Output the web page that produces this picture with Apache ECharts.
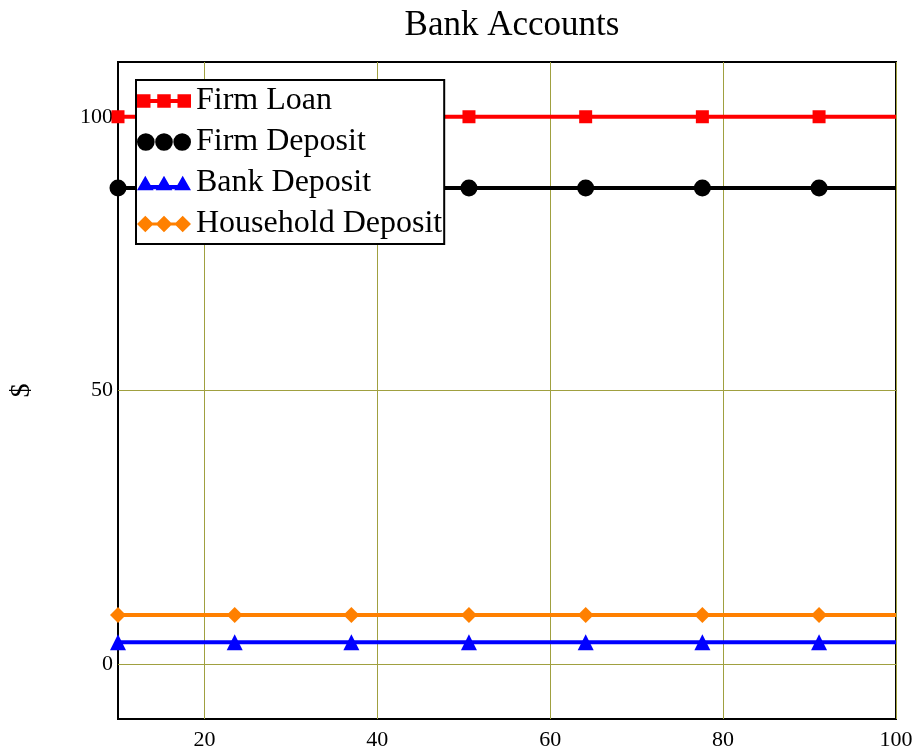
<!DOCTYPE html>
<html>
<head>
<meta charset="utf-8">
<title>Bank Accounts</title>
<script src="https://cdn.jsdelivr.net/npm/echarts@6/dist/echarts.min.js"></script>
<style>
html, body { margin: 0; padding: 0; background: #fff; }
#main { width: 923px; height: 756px; }
</style>
</head>
<body>
<div id="main"></div>
<script>
var myChart = echarts.init(document.getElementById('main'));

// time steps where the markers sit (last one is the line end)
var steps = [10, 23.5, 37, 50.6, 64.1, 77.6, 91.1, 100];
var firmLoan = [100, 100, 100, 100, 100, 100, 100, 100];
var firmDeposit = [87, 87, 87, 87, 87, 87, 87, 87];
var bankDeposit = [4, 4, 4, 4, 4, 4, 4, 4];
var householdDeposit = [9, 9, 9, 9, 9, 9, 9, 9];
var xTicks = [20, 40, 60, 80, 100];
var yTicks = [0, 50, 100];
var names = ['Firm Loan', 'Firm Deposit', 'Bank Deposit', 'Household Deposit'];

var serif = 'Liberation Serif, Times New Roman, serif';
var gridColor = '#a0a040';

// legend icons: three markers joined by a line
var icons = [
	'path://M0,0h13v4.5h6.5v-4.5h13v4.5h6.5v-4.5h13v13h-13v-4.5h-6.5v4.5h-13v-4.5h-6.5v4.5h-13z',
	'path://M0,8.5a8.5,8.5 0 1,0 17,0a8.5,8.5 0 1,0 -17,0z M17.5,8.5a8.5,8.5 0 1,0 17,0a8.5,8.5 0 1,0 -17,0z M35,8.5a8.5,8.5 0 1,0 17,0a8.5,8.5 0 1,0 -17,0z',
	'path://M0,14L8,0L16,14z M18,14L26,0L34,14z M36,14L44,0L52,14z M8,9h36v4h-36z',
	'path://M0,8L8,0L16,8L8,16z M18,8L26,0L34,8L26,16z M36,8L44,0L52,8L44,16z M8,6.5h36v3h-36z'
];

function pairs(ys) {
	return steps.map(function (x, i) {
		var p = {value: [x, ys[i]]};
		if (i === steps.length - 1) p.symbol = 'none';
		return p;
	});
}

function makeSeries(name, ys, color, symbol, size) {
	return {
		name: name,
		type: 'line',
		data: pairs(ys),
		symbol: symbol,
		symbolSize: size,
		showAllSymbol: true,
		color: color,
		lineStyle: {color: color, width: 4},
		itemStyle: {color: color},
		emphasis: {disabled: true},
		animation: false
	};
}

var option = {
	backgroundColor: '#fff',
	title: {
		text: 'Bank Accounts',
		left: 507,
		textAlign: 'center',
		top: 3,
		textStyle: {fontFamily: serif, fontSize: 35, fontWeight: 'normal', color: '#000'}
	},
	legend: {
		orient: 'vertical',
		left: 136,
		top: 80,
		padding: [5, 2, 4, 1],
		itemGap: 9,
		itemWidth: 54,
		itemHeight: 18,
		itemTextGap: 11,
		backgroundColor: '#fff',
		borderColor: '#000',
		borderWidth: 2,
		textStyle: {fontFamily: serif, fontSize: 32, color: '#000'},
		data: names.map(function (n, i) { return {name: n, icon: icons[i]}; })
	},
	grid: {
		left: 118,
		right: 27,
		top: 62,
		bottom: 37,
		outerBoundsMode: 'none',
		containLabel: false,
		show: true,
		borderColor: '#000',
		borderWidth: 2
	},
	xAxis: {
		type: 'value',
		min: 10,
		max: 100,
		axisLine: {show: false},
		axisTick: {show: false, customValues: xTicks},
		axisLabel: {customValues: xTicks, fontFamily: serif, fontSize: 22, color: '#000', margin: 10},
		splitLine: {show: true, lineStyle: {color: gridColor, width: 1}}
	},
	yAxis: {
		type: 'value',
		min: -10,
		max: 110,
		name: '$',
		nameLocation: 'middle',
		nameRotate: 90,
		nameGap: 82,
		nameTextStyle: {fontFamily: serif, fontSize: 28, color: '#000'},
		axisLine: {show: false},
		axisTick: {show: false, customValues: yTicks},
		axisLabel: {customValues: yTicks, fontFamily: serif, fontSize: 22, color: '#000', margin: 5},
		splitLine: {show: true, lineStyle: {color: gridColor, width: 1}}
	},
	series: [
		makeSeries(names[0], firmLoan, '#ff0000', 'rect', 13),
		makeSeries(names[1], firmDeposit, '#000000', 'circle', 17),
		makeSeries(names[2], bankDeposit, '#0000ff', 'triangle', 16),
		makeSeries(names[3], householdDeposit, '#ff8000', 'diamond', 16)
	]
};
myChart.setOption(option);
</script>
</body>
</html>
